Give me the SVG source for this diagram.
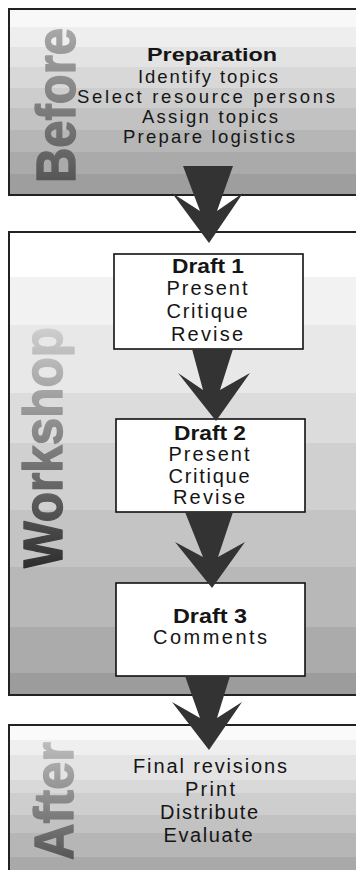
<svg xmlns="http://www.w3.org/2000/svg" width="356" height="870" viewBox="0 0 356 870">
  <style>
    .panel { stroke: #222; stroke-width: 2; }
    .box { fill: #fff; stroke: #111; stroke-width: 1.6; }
    .txt { font-family: "Liberation Sans", Arial, sans-serif; font-size: 20px; fill: #151515; text-anchor: middle; }
    .sm { font-size: 18.5px; }
    .hd { font-weight: bold; }
    .side { font-family: "Liberation Sans", Arial, sans-serif; font-size: 55px; font-weight: bold; stroke-width: 1.4; stroke-linejoin: round; }
    .arrow { fill: #333; }
  </style>
  <defs>
    <!-- stepped grey bands for the phase panels -->
    <linearGradient id="gBefore" gradientUnits="userSpaceOnUse" x1="0" y1="9" x2="0" y2="195">
      <stop offset="0" stop-color="#f8f8f8"/><stop offset=".097" stop-color="#f8f8f8"/>
      <stop offset=".097" stop-color="#eeeeee"/><stop offset=".204" stop-color="#eeeeee"/>
      <stop offset=".204" stop-color="#e3e3e3"/><stop offset=".312" stop-color="#e3e3e3"/>
      <stop offset=".312" stop-color="#d8d8d8"/><stop offset=".425" stop-color="#d8d8d8"/>
      <stop offset=".425" stop-color="#cdcdcd"/><stop offset=".532" stop-color="#cdcdcd"/>
      <stop offset=".532" stop-color="#c2c2c2"/><stop offset=".651" stop-color="#c2c2c2"/>
      <stop offset=".651" stop-color="#b6b6b6"/><stop offset=".769" stop-color="#b6b6b6"/>
      <stop offset=".769" stop-color="#aaaaaa"/><stop offset=".887" stop-color="#aaaaaa"/>
      <stop offset=".887" stop-color="#9e9e9e"/><stop offset="1" stop-color="#9e9e9e"/>
    </linearGradient>
    <linearGradient id="gWork" gradientUnits="userSpaceOnUse" x1="0" y1="232" x2="0" y2="695">
      <stop offset="0" stop-color="#ffffff"/><stop offset=".097" stop-color="#ffffff"/>
      <stop offset=".097" stop-color="#f2f2f2"/><stop offset=".2" stop-color="#f2f2f2"/>
      <stop offset=".2" stop-color="#e8e8e8"/><stop offset=".348" stop-color="#e8e8e8"/>
      <stop offset=".348" stop-color="#dcdcdc"/><stop offset=".456" stop-color="#dcdcdc"/>
      <stop offset=".456" stop-color="#d0d0d0"/><stop offset=".6" stop-color="#d0d0d0"/>
      <stop offset=".6" stop-color="#c4c4c4"/><stop offset=".724" stop-color="#c4c4c4"/>
      <stop offset=".724" stop-color="#b8b8b8"/><stop offset=".853" stop-color="#b8b8b8"/>
      <stop offset=".853" stop-color="#ababab"/><stop offset=".952" stop-color="#ababab"/>
      <stop offset=".952" stop-color="#9c9c9c"/><stop offset="1" stop-color="#9c9c9c"/>
    </linearGradient>
    <linearGradient id="gAfter" gradientUnits="userSpaceOnUse" x1="0" y1="725" x2="0" y2="870">
      <stop offset="0" stop-color="#fafafa"/><stop offset=".103" stop-color="#fafafa"/>
      <stop offset=".103" stop-color="#efefef"/><stop offset=".207" stop-color="#efefef"/>
      <stop offset=".207" stop-color="#e4e4e4"/><stop offset=".379" stop-color="#e4e4e4"/>
      <stop offset=".379" stop-color="#d9d9d9"/><stop offset=".469" stop-color="#d9d9d9"/>
      <stop offset=".469" stop-color="#cecece"/><stop offset=".621" stop-color="#cecece"/>
      <stop offset=".621" stop-color="#c2c2c2"/><stop offset=".745" stop-color="#c2c2c2"/>
      <stop offset=".745" stop-color="#b6b6b6"/><stop offset=".91" stop-color="#b6b6b6"/>
      <stop offset=".91" stop-color="#a9a9a9"/><stop offset="1" stop-color="#a9a9a9"/>
    </linearGradient>
    <!-- shading along the rotated phase titles (local x runs up the page) -->
    <linearGradient id="tBefore" gradientUnits="userSpaceOnUse" x1="0" y1="0" x2="155" y2="0">
      <stop offset="0" stop-color="#555"/><stop offset="1" stop-color="#a8a8a8"/>
    </linearGradient>
    <linearGradient id="tWork" gradientUnits="userSpaceOnUse" x1="0" y1="0" x2="241" y2="0">
      <stop offset="0" stop-color="#2e2e2e"/><stop offset="1" stop-color="#cfcfcf"/>
    </linearGradient>
    <linearGradient id="tAfter" gradientUnits="userSpaceOnUse" x1="0" y1="0" x2="118" y2="0">
      <stop offset="0" stop-color="#555"/><stop offset="1" stop-color="#bdbdbd"/>
    </linearGradient>
  </defs>

  <rect width="356" height="870" fill="#fff"/>

  <!-- Before phase -->
  <g id="before">
    <rect class="panel" x="9" y="9" width="400" height="186" fill="url(#gBefore)"/>
    <text class="side" transform="translate(75,183) rotate(-90)" fill="url(#tBefore)" stroke="url(#tBefore)" textLength="155" lengthAdjust="spacingAndGlyphs">Before</text>
    <text class="txt sm hd" x="212" y="61" textLength="130" lengthAdjust="spacingAndGlyphs">Preparation</text>
    <text class="txt sm" x="208" y="83" textLength="140">Identify topics</text>
    <text class="txt sm" x="206" y="103" textLength="258">Select resource persons</text>
    <text class="txt sm" x="210" y="123" textLength="136">Assign topics</text>
    <text class="txt sm" x="209" y="143" textLength="172">Prepare logistics</text>
  </g>

  <!-- Workshop phase -->
  <g id="workshop">
    <rect class="panel" x="9" y="232" width="400" height="463" fill="url(#gWork)"/>
    <text class="side" transform="translate(62,568) rotate(-90)" fill="url(#tWork)" stroke="url(#tWork)" textLength="241" lengthAdjust="spacingAndGlyphs">Workshop</text>
  </g>

  <g id="draft1">
    <rect class="box" x="114" y="254" width="189" height="95"/>
    <text class="txt hd" x="208" y="273" textLength="72" lengthAdjust="spacingAndGlyphs">Draft 1</text>
    <text class="txt" x="207" y="295" textLength="81">Present</text>
    <text class="txt" x="207" y="318" textLength="81">Critique</text>
    <text class="txt" x="207" y="341" textLength="72">Revise</text>
  </g>

  <g id="draft2">
    <rect class="box" x="116" y="419" width="189" height="93"/>
    <text class="txt hd" x="210" y="440" textLength="72" lengthAdjust="spacingAndGlyphs">Draft 2</text>
    <text class="txt" x="209" y="461" textLength="81">Present</text>
    <text class="txt" x="209" y="483" textLength="81">Critique</text>
    <text class="txt" x="209" y="504" textLength="72">Revise</text>
  </g>

  <g id="draft3">
    <rect class="box" x="116" y="583" width="189" height="93"/>
    <text class="txt hd" x="210" y="623" textLength="74" lengthAdjust="spacingAndGlyphs">Draft 3</text>
    <text class="txt" x="210" y="644" textLength="114">Comments</text>
  </g>

  <!-- After phase -->
  <g id="after">
    <rect class="panel" x="9" y="725" width="400" height="160" fill="url(#gAfter)"/>
    <text class="side" transform="translate(73,860) rotate(-90)" fill="url(#tAfter)" stroke="url(#tAfter)" textLength="118" lengthAdjust="spacingAndGlyphs">After</text>
    <text class="txt" x="210" y="773" textLength="154">Final revisions</text>
    <text class="txt" x="210" y="796" textLength="50">Print</text>
    <text class="txt" x="209" y="819" textLength="98">Distribute</text>
    <text class="txt" x="208" y="842" textLength="89">Evaluate</text>
  </g>

  <!-- flow arrows -->
  <g id="connectors">
    <polygon class="arrow" points="183,166 233,166 217,211 243,193 209,243 172,193 200,211"/>
    <polygon class="arrow" points="192,349 233,349 220,390 250,373 216,421 178,373 203,390"/>
    <polygon class="arrow" points="185,512 233,512 218,557 245,542 212,588 175,542 203,557"/>
    <polygon class="arrow" points="185,676 230,676 217,718 242,702 209,750 172,702 200,718"/>
  </g>
</svg>
